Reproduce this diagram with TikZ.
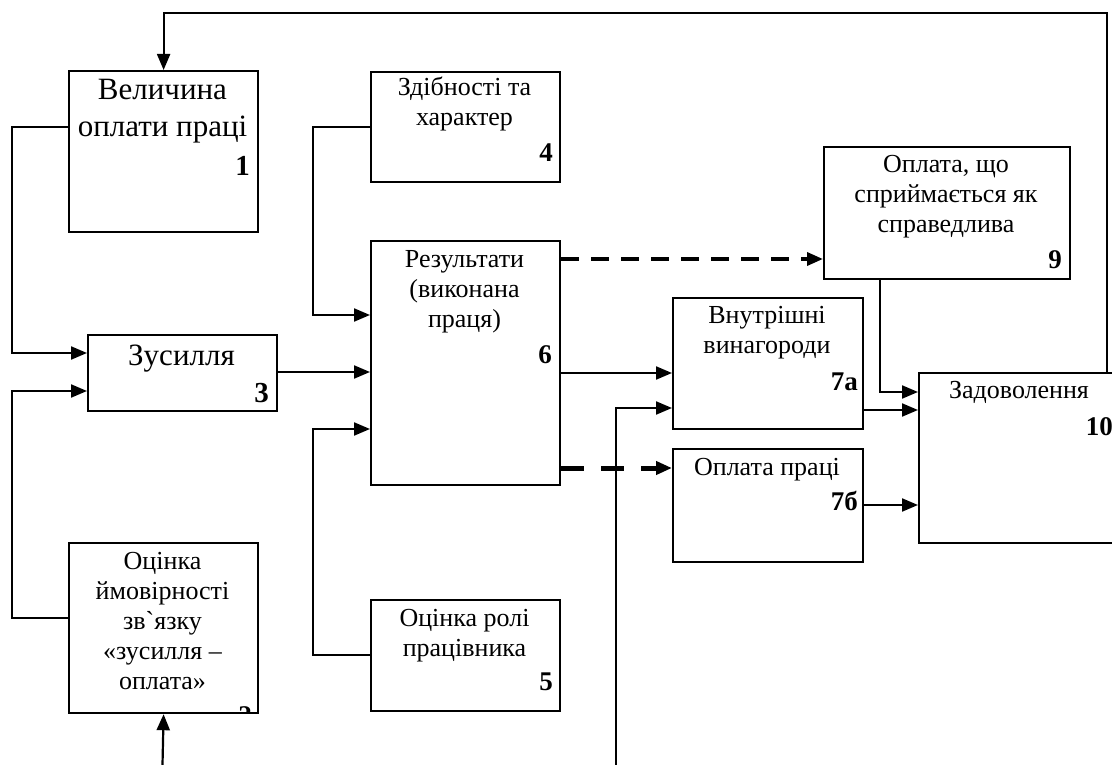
\documentclass[tikz,border=0pt]{standalone}
\usepackage{fontspec}
\setmainfont{Liberation Serif}
\newfontfamily\tfont{Liberation Serif}
\usetikzlibrary{arrows.meta}
\begin{document}
\begin{tikzpicture}[x=1pt,y=-1pt,
  box/.style={draw, line width=2.2pt, inner sep=0pt, anchor=north west},
  conn/.style={line width=2.2pt, -{Triangle[length=16pt,width=13pt]}},
  dashA/.style={conn, line width=3.5pt, dash pattern=on 18pt off 12pt},
  dashB/.style={conn, line width=5pt, dash pattern=on 23pt off 17pt},
  big/.style={font=\tfont\fontsize{31}{37}\selectfont, align=center, anchor=base, inner sep=0pt},
  txt/.style={font=\tfont\fontsize{26}{30}\selectfont, align=center, anchor=base, inner sep=0pt},
  num/.style={font=\tfont\fontsize{27}{30}\selectfont\bfseries, anchor=base east, inner sep=0pt},
  bignum/.style={num, font=\tfont\fontsize{29}{30}\selectfont\bfseries}]
\useasboundingbox (0,0) rectangle (1112,765);
\clip (0,0) rectangle (1112,765);
\fill[white] (0,0) rectangle (1112,765);

% boxes
\node[box, minimum width=189pt, minimum height=161pt] (b1) at (68,70) {};
\node[box, minimum width=189pt, minimum height=76pt] (b3) at (87,334) {};
\node[box, minimum width=189pt, minimum height=170pt] (b2) at (68,542) {};
\node[box, minimum width=189pt, minimum height=110pt] (b4) at (370,71) {};
\node[box, minimum width=189pt, minimum height=244pt] (b6) at (370,240) {};
\node[box, minimum width=189pt, minimum height=111pt] (b5) at (370,599) {};
\node[box, minimum width=246pt, minimum height=132pt] (b9) at (823,146) {};
\node[box, minimum width=190pt, minimum height=131pt] (b7a) at (672,297) {};
\node[box, minimum width=190pt, minimum height=113pt] (b7b) at (672,448) {};
\node[box, minimum width=202pt, minimum height=170pt] (b10) at (918,372) {};

% texts (anchor=base is the baseline of the last line)
\node[big] (t1) at (162.5,137) {Величина\\оплати праці};
\node[bignum] (n1) at (250,176) {1};
\node[big] (t3) at (181.5,365) {Зусилля};
\node[bignum] (n3) at (269,402) {3};
\node[txt] (t2) at (162.5,689) {Оцінка\\ймовірності\\зв`язку\\«зусилля –\\оплата»};
\begin{scope}
\clip (69,543) rectangle (256,711);
\node[num] (n2) at (252,724) {2};
\end{scope}
\node[txt] (t4) at (464.5,126) {Здібності та\\характер};
\node[num] (n4) at (553,162) {4};
\node[txt] (t6) at (464.5,327) {Результати\\(виконана\\праця)};
\node[num] (n6) at (552,363) {6};
\node[txt] (t5) at (464.5,656) {Оцінка ролі\\працівника};
\node[num] (n5) at (553,690) {5};
\node[txt] (t9) at (946,233) {Оплата, що\\сприймається як\\справедлива};
\node[num] (n9) at (1062,268) {9};
\node[txt] (t7a) at (767,353) {Внутрішні\\винагороди};
\node[num] (n7a) at (858,390) {7а};
\node[txt] (t7b) at (767,475) {Оплата праці};
\node[num] (n7b) at (858,510) {7б};
\node[txt] (t10) at (1019,398) {Задоволення};
\node[num] (n10) at (1113,435) {10};

% connectors
\coordinate (bot2) at (162.5,765);
\coordinate (bot7) at (616,765);
\draw[conn] (b10.north -| 1107,0) -- (1107,13) -| (b1.north);
\draw[conn] (b1.west |- 0,127) -- (12,127) |- (b3.west |- 0,353);
\draw[conn] (b2.west |- 0,618) -- (12,618) |- (b3.west |- 0,391);
\draw[conn] (bot2) -- (b2.south);
\draw[conn] (b3.east |- 0,372) -- (b6.west |- 0,372);
\draw[conn] (b4.west |- 0,127) -- (313,127) |- (b6.west |- 0,315);
\draw[conn] (b5.west |- 0,655) -- (313,655) |- (b6.west |- 0,429);
\draw[dashA] (b6.east |- 0,259) -- (b9.west |- 0,259);
\draw[conn] (b6.east |- 0,373) -- (b7a.west |- 0,373);
\draw[dashB] (b6.east |- 0,468) -- (b7b.west |- 0,468);
\draw[conn] (bot7) |- (b7a.west |- 0,408);
\draw[conn] (b9.south -| 880,0) |- (b10.west |- 0,392);
\draw[conn] (b7a.east |- 0,410) -- (b10.west |- 0,410);
\draw[conn] (b7b.east |- 0,505) -- (b10.west |- 0,505);
\end{tikzpicture}
\end{document}
